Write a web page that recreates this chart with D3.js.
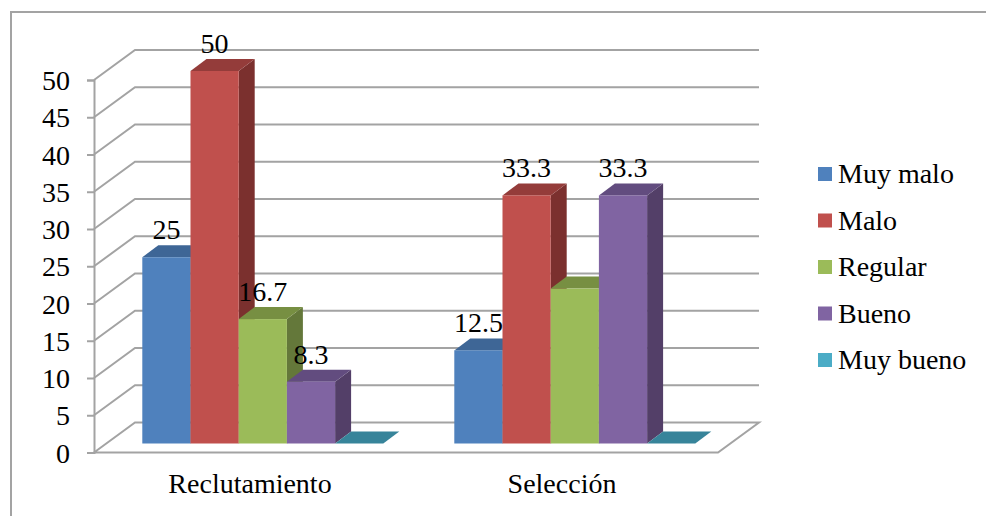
<!DOCTYPE html>
<html lang="es">
<head>
<meta charset="utf-8">
<script src="https://cdn.jsdelivr.net/npm/d3@7"></script>
<style>
  body { margin: 0; background: #fff; }
  text { font-family: "Liberation Serif", "Times New Roman", serif; fill: #000; }
</style>
</head>
<body>
<div id="chart"></div>
<script>
//Datos del grafico
const categorias = ["Reclutamiento", "Selección"]
const series = ["Muy malo", "Malo", "Regular", "Bueno", "Muy bueno"]
const muyMalo = [25, 12.5]
const malo = [50, 33.3]
const regular = [16.7, 20.8]
const bueno = [8.3, 33.3]
const muyBueno = [0, 0]
const valores = [muyMalo, malo, regular, bueno, muyBueno]
const ticks = [0, 5, 10, 15, 20, 25, 30, 35, 40, 45, 50]

//Colores: frente, tapa y lateral de cada serie
const colorFrente = ["#4f81bd", "#c0504d", "#9bbb59", "#8064a2", "#4bacc6"]
const colorTapa = ["#3e6696", "#943c3a", "#778f42", "#624c7f", "#37849a"]
const colorLado = ["#335379", "#7b302e", "#64783a", "#533f68", "#2d6c7e"]

//Etiquetas que se muestran encima de las barras
const etiquetas = [["25", "12.5"], ["50", "33.3"], ["16.7", ""], ["8.3", "33.3"], ["", ""]]

const width = 986
const height = 516
const gris = "#a3a3a3"
const tamFuente = 28

//Profundidad de la pared y de las barras
const pared = {dx: 41, dy: -30}
const fondo = {dx: 16, dy: -12}

const svg = d3
    .select("#chart")
    .append("svg")
    .attr("width", width)
    .attr("height", height)

//Escalas
const yEje = d3.scaleLinear().domain([0, 50]).range([452.5, 80])
const yBarra = d3.scaleLinear().domain([0, 50]).range([443.5, 71])

const x = d3.scaleBand().domain(categorias).range([94, 718])
const xSerie = d3.scaleBand().domain(series).range([48.3, 289.3])

//Marco exterior
svg.append("path")
    .attr("d", `M11,${height} V12 H${width}`)
    .attr("fill", "none")
    .attr("stroke", gris)
    .attr("stroke-width", 2)

//Suelo
const xIni = x.range()[0]
const xFin = x.range()[1]
const y0 = yEje(0)
svg.append("polygon")
    .attr("points", [
        [xIni, y0],
        [xIni + pared.dx, y0 + pared.dy],
        [xFin + pared.dx, y0 + pared.dy],
        [xFin, y0]
    ].join(" "))
    .attr("fill", "#fff")
    .attr("stroke", gris)
    .attr("stroke-width", 2)

//Lineas de la pared: diagonal y horizontal
const rejilla = svg.append("g").attr("id", "rejilla")
rejilla.selectAll("path").data(ticks.slice(1)).enter()
    .append("path")
    .attr("d", d => `M${xIni},${yEje(d)} L${xIni + pared.dx},${yEje(d) + pared.dy} H${xFin + pared.dx}`)
    .attr("fill", "none")
    .attr("stroke", gris)
    .attr("stroke-width", 2)

//Eje Y
const yAxis = d3.axisLeft(yEje).tickValues(ticks).tickSize(7).tickPadding(17).tickFormat(d3.format("d"))
const yAxisGroup = svg.append("g")
    .attr("id", "yAxisGroup")
    .attr("transform", `translate(${xIni}, 0)`)
    .call(yAxis)
yAxisGroup.selectAll("line").attr("stroke", gris).attr("stroke-width", 2)
yAxisGroup.select(".domain").attr("stroke", gris).attr("stroke-width", 2)
yAxisGroup.selectAll("text")
    .attr("font-family", "Liberation Serif")
    .attr("font-size", tamFuente)
    .attr("dy", 9.5)

//Eje X sin lineas, solo los nombres
const xAxis = d3.axisBottom(x).tickSize(0).tickPadding(0)
const xAxisGroup = svg.append("g")
    .attr("id", "xAxisGroup")
    .attr("transform", `translate(0, ${y0})`)
    .call(xAxis)
xAxisGroup.select(".domain").remove()
xAxisGroup.selectAll("text")
    .attr("font-family", "Liberation Serif")
    .attr("font-size", tamFuente)
    .attr("y", 40.5)
    .attr("dy", 0)

//Barras, de izquierda a derecha para que se tapen bien
const barras = []
series.forEach((s, i) => {
    categorias.forEach((c, j) => {
        barras.push({serie: s, categoria: c, valor: valores[i][j], i: i, etiqueta: etiquetas[i][j]})
    })
})
barras.sort((a, b) => d3.ascending(a.categoria === categorias[0] ? 0 : 1, b.categoria === categorias[0] ? 0 : 1) || a.i - b.i)

const izq = d => x(d.categoria) + xSerie(d.serie)
const der = d => izq(d) + xSerie.bandwidth()

const grupos = svg.append("g").attr("id", "barras")
    .selectAll("g").data(barras).enter()
    .append("g")

grupos.append("polygon")
    .attr("points", d => [
        [der(d), yBarra(d.valor)],
        [der(d) + fondo.dx, yBarra(d.valor) + fondo.dy],
        [der(d) + fondo.dx, yBarra(0) + fondo.dy],
        [der(d), yBarra(0)]
    ].join(" "))
    .attr("fill", d => colorLado[d.i])

grupos.append("polygon")
    .attr("points", d => [
        [izq(d), yBarra(d.valor)],
        [izq(d) + fondo.dx, yBarra(d.valor) + fondo.dy],
        [der(d) + fondo.dx, yBarra(d.valor) + fondo.dy],
        [der(d), yBarra(d.valor)]
    ].join(" "))
    .attr("fill", d => colorTapa[d.i])

grupos.append("rect")
    .attr("x", izq)
    .attr("y", d => yBarra(d.valor))
    .attr("width", xSerie.bandwidth())
    .attr("height", d => yBarra(0) - yBarra(d.valor))
    .attr("fill", d => colorFrente[d.i])

//Etiquetas de valor
svg.append("g").attr("id", "etiquetas")
    .selectAll("text").data(barras.filter(d => d.etiqueta !== "")).enter()
    .append("text")
    .text(d => d.etiqueta)
    .attr("text-anchor", "middle")
    .attr("x", d => izq(d) + xSerie.bandwidth() / 2)
    .attr("y", d => yBarra(d.valor) - 18)
    .attr("font-size", tamFuente)

//Leyenda
const yLeyenda = d3.scalePoint().domain(series).range([174, 360])
const leyenda = svg.append("g").attr("id", "leyenda")
    .selectAll("g").data(series).enter()
    .append("g")
    .attr("transform", d => `translate(818, ${yLeyenda(d)})`)

leyenda.append("rect")
    .attr("x", 0)
    .attr("y", -7)
    .attr("width", 14)
    .attr("height", 14)
    .attr("fill", (d, i) => colorFrente[i])

leyenda.append("text")
    .text(d => d)
    .attr("x", 20)
    .attr("y", 9)
    .attr("font-size", tamFuente)
</script>
</body>
</html>
